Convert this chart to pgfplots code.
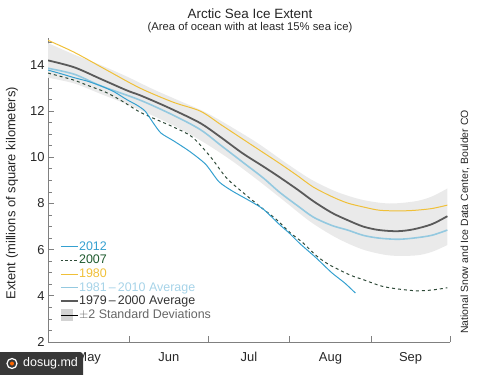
\documentclass[border=0pt]{standalone}
\usepackage{pgfplots}
\pgfplotsset{compat=1.18}
\usepgfplotslibrary{fillbetween}
\usepackage{fontspec}
\setmainfont{Liberation Sans}
\definecolor{c2012}{HTML}{34A0D0}
\definecolor{c2007}{HTML}{2E4A38}
\definecolor{t2007}{HTML}{1E5A2E}
\definecolor{c1980}{HTML}{F0C038}
\definecolor{c8110}{HTML}{94C9E0}
\definecolor{t8110}{HTML}{A6D3E8}
\definecolor{c7900}{HTML}{5A5A5A}
\definecolor{t7900}{HTML}{333333}
\definecolor{cband}{HTML}{EAEAEA}
\definecolor{tband}{HTML}{666666}
\definecolor{spine}{HTML}{808080}

\pgfplotstableread{
d v
0 13.78
5 13.62
10 13.45
15 13.3
20 13.1
25 12.85
30 12.5
34 12.25
37 12.0
40 11.5
43 11.05
48 10.7
54 10.25
60 9.7
65 8.95
70 8.55
77 8.1
82 7.75
88 7.1
92 6.7
96 6.25
102 5.65
108 5.0
113 4.55
117 4.12
}\tdouze

\pgfplotstableread{
d v
0 13.65
5 13.5
10 13.34
15 13.12
22 12.82
28 12.45
35 11.96
42 11.6
48 11.3
55 10.87
62 10.0
68 9.1
75 8.4
81 7.84
87 7.3
92 6.75
97 6.3
102 5.75
107 5.35
115 4.9
120 4.7
127 4.42
133 4.3
140 4.22
146 4.25
152 4.35
}\tseven

\pgfplotstableread{
d v
0 15.07
10 14.55
22.5 13.77
35 13.0
47.6 12.39
58 12.0
66 11.4
74 10.8
82 10.2
88 9.75
95 9.2
101 8.71
108 8.3
114 8.02
120 7.85
126 7.71
133 7.68
139 7.7
146 7.78
152 7.93
}\teighty

\pgfplotstableread{
d v
0 14.2
10 13.9
20 13.4
30 12.9
35 12.69
42 12.35
48 12.04
58 11.48
66 10.85
74 10.18
82 9.6
88 9.15
95 8.6
101 8.1
108 7.6
114 7.28
120 7.0
126 6.85
133 6.8
139 6.88
146 7.1
152 7.45
}\tavgA

\pgfplotstableread{
d v
0 13.86
10 13.6
20 13.1
35 12.48
47.6 11.83
58 11.2
66 10.5
74 9.8
82 9.1
88 8.5
95 7.9
101 7.41
108 7.05
114 6.85
120 6.62
126 6.5
133 6.45
139 6.5
146 6.62
152 6.85
}\tavgB

\pgfplotstableread{
d up lo
0 14.95 13.45
10 14.45 13.2
20 14.0 12.75
30 13.5 12.3
40 12.95 11.8
50 12.45 11.25
60 11.95 10.6
70 11.3 9.85
80 10.6 9.0
90 9.8 8.1
100 9.05 7.2
110 8.5 6.5
120 8.15 6.0
130 8.0 5.75
140 8.1 5.75
146 8.3 5.9
152 8.65 6.2
}\tband

\begin{document}
\begin{tikzpicture}
\begin{axis}[
  at={(0,0)}, anchor=south west,
  scale only axis, width=402bp, height=304bp,
  xmin=0, xmax=153, ymin=2, ymax=15.17,
  axis x line*=bottom, axis y line*=left,
  axis line style={-, draw=spine, line width=0.8pt},
  xtick={0,31,61,92,123,153}, xticklabels={},
  extra x ticks={15.5,46,76.5,107.5,138},
  extra x tick labels={May,Jun,Jul,Aug,Sep},
  extra x tick style={major tick length=0pt, tick label style={yshift=-7bp}},
  ytick={2,4,...,14}, minor ytick={2.5,3,...,15},
  major tick length=6bp, minor tick length=3.5bp,
  tick align=inside,
  tick style={draw=spine, line width=0.8pt},
  tick label style={font=\fontsize{13}{15}\selectfont, text=black!85},
  /pgf/number format/assume math mode=true,
  ylabel={Extent (millions of square kilometers)},
  ylabel style={at={(axis description cs:-0.0896,0.49)}, anchor=center, font=\fontsize{13}{15}\selectfont, text=black!85},
  legend style={at={(axis description cs:0.0299,0.3355)}, anchor=north west,
    draw=none, fill=none, inner sep=0pt, outer sep=0pt, row sep=0pt,
    font=\fontsize{12.5}{13.6}\selectfont,
    nodes={inner sep=0.3bp, text height=10bp, text depth=3bp}},
  legend cell align=left,
  legend image code/.code={\draw[#1] (0bp,0bp) -- (9bp,0bp); \path (0bp,0bp) -- (17bp,0bp);},
]
\addlegendimage{c2012, line width=1pt}
\addlegendentry{\textcolor{c2012}{2012}}
\addlegendimage{c2007, line width=1pt, dash pattern=on 2.5bp off 2bp}
\addlegendentry{\textcolor{t2007}{2007}}
\addlegendimage{c1980, line width=1pt}
\addlegendentry{\textcolor{c1980}{1980}}
\addlegendimage{c8110, line width=1.6pt}
\addlegendentry{\textcolor{t8110}{1981\,--\,2010 Average}}
\addlegendimage{c7900, line width=1.8pt}
\addlegendentry{\textcolor{t7900}{1979\,--\,2000 Average}}
\addlegendimage{legend image code/.code={\fill[cband!90!black] (0bp,-5.5bp) rectangle (11bp,5.5bp); \path (0bp,0bp) -- (17bp,0bp);}}
\addlegendentry{\textcolor{tband}{$\pm$2 Standard Deviations}}

\addplot[name path=up, draw=none, smooth, forget plot] table[x=d, y=up] {\tband};
\addplot[name path=lo, draw=none, smooth, forget plot] table[x=d, y=lo] {\tband};
\addplot[fill=cband, draw=none, forget plot] fill between[of=up and lo];

\addplot[c1980, line width=1pt, smooth, forget plot] table[x=d, y=v] {\teighty};
\addplot[c8110, line width=1.6pt, smooth, forget plot] table[x=d, y=v] {\tavgB};
\addplot[c7900, line width=1.8pt, smooth, forget plot] table[x=d, y=v] {\tavgA};
\addplot[c2007, line width=1pt, dash pattern=on 3bp off 3bp, smooth, forget plot] table[x=d, y=v] {\tseven};
\addplot[c2012, line width=1pt, smooth, tension=0.4, forget plot] table[x=d, y=v] {\tdouze};
\end{axis}
\node[font=\fontsize{13.5}{16}\selectfont, text=black!85, inner sep=0pt] at (202bp,328.5bp) {Arctic Sea Ice Extent};
\node[font=\fontsize{11.3}{13}\selectfont, text=black!85, inner sep=0pt] at (202bp,314.5bp) {(Area of ocean with at least 15\% sea ice)};
\node[rotate=90, font=\fontsize{10.5}{12}\selectfont, text=black!85, anchor=center] at (417bp,120bp) {National Snow and Ice Data Center, Boulder CO};
\fill[black!78, rounded corners=3bp] (-55bp,-40bp) rectangle (35bp,-10bp);
\draw[white, line width=1.2pt] (-36bp,-21.5bp) circle (5bp);
\fill[orange!80!red] (-36bp,-21.5bp) circle (2bp);
\node[white, font=\fontsize{12.5}{14}\selectfont, anchor=west, inner sep=0pt] at (-25bp,-21.5bp) {dosug.md};
\pgfresetboundingbox
\useasboundingbox (-48bp,-33bp) rectangle (452bp,342bp);
\end{tikzpicture}
\end{document}
